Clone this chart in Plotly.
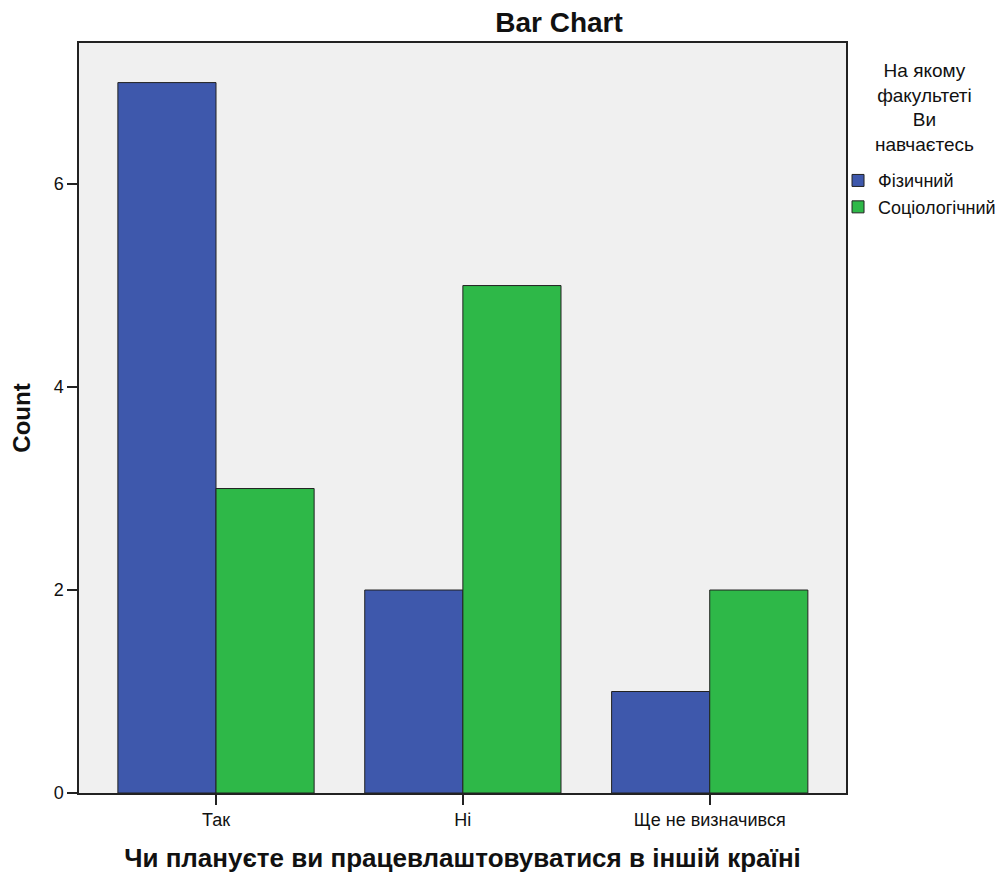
import plotly.graph_objects as go

categories = ["Так", "Ні", "Ще не визначився"]
fizychnyi = [7, 2, 1]
sotsiolohichnyi = [3, 5, 2]
y_ticks = [0, 2, 4, 6]

font_main = "Liberation Sans, Arial, sans-serif"

fig = go.Figure()
fig.add_trace(go.Bar(x=categories, y=fizychnyi, name="Фізичний",
                     marker=dict(color="#3e58ac", line=dict(color="#222222", width=1))))
fig.add_trace(go.Bar(x=categories, y=sotsiolohichnyi, name="Соціологічний",
                     marker=dict(color="#2eb848", line=dict(color="#222222", width=1))))

fig.update_layout(
    width=997, height=870,
    barmode="group", bargap=0.205, bargroupgap=0,
    paper_bgcolor="white", plot_bgcolor="#f0f0f0",
    margin=dict(l=71, r=159, t=35, b=85, autoexpand=False),
    title=dict(text="<b>Bar Chart</b>", x=0.5527, xref="container", xanchor="center",
               y=0.984, yref="container", yanchor="middle",
               font=dict(family=font_main, size=28, color="#111111")),
    xaxis=dict(type="category", range=[-0.555, 2.552],
               showline=True, linecolor="#222222", linewidth=1.5, mirror=True,
               ticks="outside", ticklen=10, tickcolor="#222222", tickwidth=1.5,
               tickfont=dict(family=font_main, size=18, color="#111111"),
               title=dict(text="<b>Чи плануєте ви працевлаштовуватися в іншій країні</b>",
                          font=dict(family=font_main, size=26, color="#111111"), standoff=19),
               showgrid=False),
    yaxis=dict(range=[0, 7.39], tickvals=y_ticks,
               showline=True, linecolor="#222222", linewidth=1.5, mirror=True,
               ticks="outside", ticklen=10, tickcolor="#222222", tickwidth=1.5,
               tickfont=dict(family=font_main, size=18, color="#111111"),
               title=dict(text="<b>Count</b>", font=dict(family=font_main, size=24, color="#111111"),
                          standoff=16),
               showgrid=False, zeroline=False),
    legend=dict(x=0.9896, xanchor="left", y=0.841, yanchor="top",
                font=dict(family=font_main, size=18, color="#111111"),
                bgcolor="rgba(0,0,0,0)", itemwidth=30, tracegroupgap=0),
    annotations=[dict(text="На якому<br>факультеті<br>Ви<br>навчаєтесь",
                      x=1.1017, xref="paper", xanchor="center",
                      y=0.98, yref="paper", yanchor="top", showarrow=False,
                      align="center",
                      font=dict(family=font_main, size=19, color="#111111"))],
)

fig.write_html("out.html")
